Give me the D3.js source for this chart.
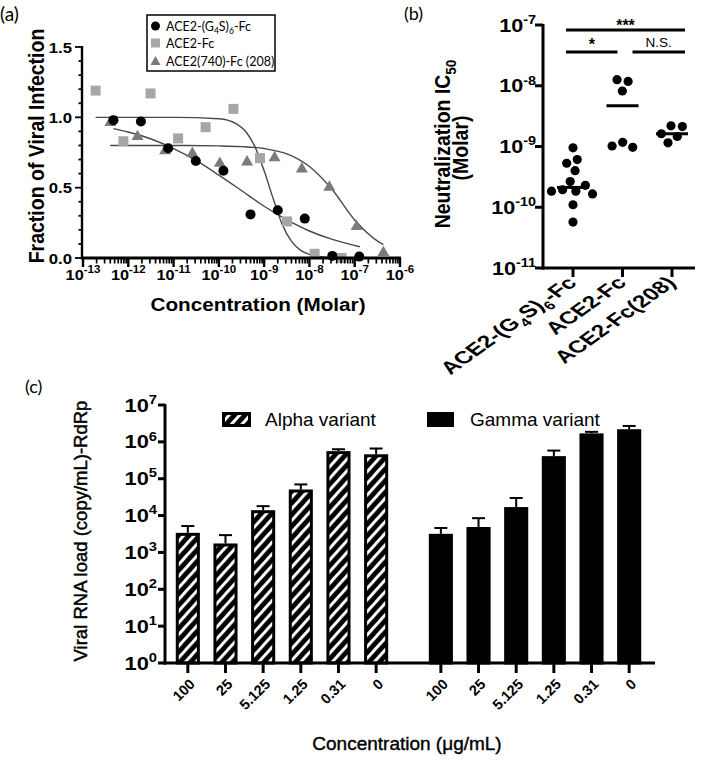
<!DOCTYPE html>
<html><head><meta charset="utf-8">
<script src="https://cdn.jsdelivr.net/npm/d3@7"></script>
<style>body{margin:0;background:#fff}svg{display:block}</style>
</head><body>
<svg id="chart" width="709" height="760"></svg>
<script>
// ---------------- DATA ----------------
// Panel (a): fraction of viral infection vs concentration (Molar)
const aSeriesNames = ["ACE2-(G4S)6-Fc", "ACE2-Fc", "ACE2(740)-Fc (208)"];
const aG4S_x = [4.7e-13, 1.9e-12, 7.6e-12, 3.1e-11, 1.26e-10, 5.0e-10, 2.0e-9, 7.9e-9, 3.2e-8, 1.26e-7];
const aG4S_y = [0.98, 0.97, 0.78, 0.69, 0.62, 0.31, 0.34, 0.28, 0.015, 0.01];
const aFc_x = [1.9e-13, 7.8e-13, 3.1e-12, 1.26e-11, 5.1e-11, 2.1e-10, 8.1e-10, 3.2e-9, 1.3e-8, 5.1e-8];
const aFc_y = [1.19, 0.83, 1.17, 0.85, 0.93, 1.06, 0.71, 0.26, 0.03, 0.0];
const a208_x = [4.0e-13, 1.6e-12, 6.5e-12, 2.6e-11, 1.05e-10, 4.2e-10, 1.7e-9, 6.8e-9, 2.75e-8, 1.1e-7, 4.3e-7];
const a208_y = [0.97, 0.87, 0.77, 0.75, 0.68, 0.69, 0.72, 0.64, 0.51, 0.23, 0.045];
// fitted curves
const fitG4S_x = [4.7e-13, 1e-12, 3.2e-12, 1e-11, 3.2e-11, 1e-10, 3.2e-10, 1e-9, 3.2e-9, 1e-8, 3.2e-8, 1.3e-7];
const fitG4S_y = [0.92, 0.896, 0.846, 0.778, 0.692, 0.589, 0.478, 0.368, 0.271, 0.192, 0.132, 0.08];
const fitFc_x = [1.9e-13, 1e-11, 1e-10, 2.5e-10, 4e-10, 6.3e-10, 1e-9, 1.6e-9, 2.5e-9, 4e-9, 6.3e-9, 1e-8, 2.5e-8, 5.1e-8];
const fitFc_y = [1.0, 1.0, 0.99, 0.952, 0.896, 0.79, 0.62, 0.418, 0.239, 0.12, 0.056, 0.026, 0.005, 0.0];
const fit208_x = [4.0e-13, 1e-11, 1e-10, 3.2e-10, 1e-9, 3.2e-9, 1e-8, 3.2e-8, 1e-7, 3.2e-7, 4.3e-7];
const fit208_y = [0.80, 0.80, 0.797, 0.792, 0.778, 0.74, 0.65, 0.485, 0.27, 0.12, 0.095];
const aYTicks = [0, 0.5, 1.0, 1.5];
const aXExps = [-13, -12, -11, -10, -9, -8, -7, -6];

// Panel (b): neutralization IC50 (Molar)
const bCats = ["ACE2-(G4S)6-Fc", "ACE2-Fc", "ACE2-Fc(208)"];
const bG4S = [9.5e-10, 6.1e-10, 5.3e-10, 4.0e-10, 2.65e-10, 2.3e-10, 1.94e-10, 1.84e-10, 1.84e-10, 1.66e-10, 1.1e-10, 5.7e-11];
const bFc = [1.26e-8, 1.18e-8, 8.2e-9, 1.17e-9, 1.02e-9, 9.7e-10];
const b208 = [2.19e-9, 2.13e-9, 1.62e-9, 1.46e-9, 1.15e-9];
const bYExps = [-11, -10, -9, -8, -7];
const bSig = [["ACE2-(G4S)6-Fc", "ACE2-Fc(208)", "***"], ["ACE2-(G4S)6-Fc", "ACE2-Fc", "*"], ["ACE2-Fc", "ACE2-Fc(208)", "N.S."]];

// Panel (c): viral RNA load
const cGroups = ["Alpha variant", "Gamma variant"];
const cConc = ["100", "25", "5.125", "1.25", "0.31", "0"];
const cAlpha = [3.4e3, 1.75e3, 1.4e4, 5.1e4, 5.6e5, 4.6e5];
const cAlphaUpper = [5.2e3, 2.95e3, 1.8e4, 7.0e4, 6.3e5, 6.6e5];
const cGamma = [3.2e3, 4.9e3, 1.7e4, 4.1e5, 1.7e6, 2.2e6];
const cGammaUpper = [4.6e3, 8.5e3, 3.0e4, 5.8e5, 1.87e6, 2.7e6];
const cYExps = [0, 1, 2, 3, 4, 5, 6, 7];

// ---------------- DRAWING ----------------
const svg = d3.select("#chart");
const ARIAL = "'Liberation Sans', Arial, Helvetica, sans-serif";
const LATO = "Lato, 'Open Sans', sans-serif";

function pow10(g, x, y, exp, size, supSize, anchor, sx) {
  const t = g.append("text").attr("transform", `translate(${x},${y}) scale(${sx || 1},1)`)
    .attr("text-anchor", anchor).attr("font-family", ARIAL)
    .attr("font-weight", "bold").attr("font-size", size).attr("fill", "#000");
  t.append("tspan").text("10");
  t.append("tspan").text(String(exp)).attr("font-size", supSize).attr("dy", -size * 0.42);
  return t;
}
function subText(t, parts, size, subSize) {
  let shifted = false;
  parts.forEach(([s, sub]) => {
    const ts = t.append("tspan").text(s);
    if (sub && !shifted) { ts.attr("font-size", subSize).attr("dy", size * 0.28); shifted = true; }
    else if (sub && shifted) { ts.attr("font-size", subSize); }
    else if (!sub && shifted) { ts.attr("dy", -size * 0.28); shifted = false; }
  });
}

// ===== Panel (a) =====
const gA = svg.append("g");
gA.append("text").attr("x", 0).attr("y", 21).attr("font-family", LATO).attr("font-size", 19).text("(a)");
const xA = d3.scaleLog().domain([1e-13, 1e-6]).range([83, 400]);
const yA = d3.scaleLinear().domain([0, 1.5]).range([258, 47]);

const lineA = d3.line().x(d => xA(d[0])).y(d => yA(d[1])).curve(d3.curveMonotoneX);
[[fitG4S_x, fitG4S_y], [fitFc_x, fitFc_y], [fit208_x, fit208_y]].forEach(([xs, ys]) => {
  gA.append("path").attr("d", lineA(xs.map((v, i) => [v, ys[i]])))
    .attr("fill", "none").attr("stroke", "#4a4a4a").attr("stroke-width", 1.4);
});
const sqCol = "#a6a6a6", triCol = "#7b7b7b";
const tri = d3.symbol().type(d3.symbolTriangle).size(62);
gA.selectAll(".a208").data(a208_x.map((v, i) => [v, a208_y[i]])).join("path")
  .attr("transform", d => `translate(${xA(d[0])},${yA(d[1]) + 1})`).attr("d", tri).attr("fill", triCol);
gA.selectAll(".aFc").data(aFc_x.map((v, i) => [v, aFc_y[i]])).join("rect")
  .attr("x", d => xA(d[0]) - 5).attr("y", d => yA(d[1]) - 5).attr("width", 10).attr("height", 10).attr("fill", sqCol);
gA.selectAll(".aG4S").data(aG4S_x.map((v, i) => [v, aG4S_y[i]])).join("circle")
  .attr("cx", d => xA(d[0])).attr("cy", d => yA(d[1])).attr("r", 5).attr("fill", "#000");

gA.append("line").attr("x1", 82).attr("x2", 82).attr("y1", yA(1.5) - 1).attr("y2", yA(0) + 1).attr("stroke", "#000").attr("stroke-width", 2.4);
gA.append("line").attr("x1", 81).attr("x2", xA(1e-6) + 1).attr("y1", yA(0)).attr("y2", yA(0)).attr("stroke", "#000").attr("stroke-width", 2.8);
d3.range(0, 16).forEach(i => {
  const v = i / 10, major = i % 5 === 0;
  gA.append("line").attr("x1", 82).attr("x2", major ? 75 : 78.5).attr("y1", yA(v)).attr("y2", yA(v)).attr("stroke", "#000").attr("stroke-width", 1.8);
});
aYTicks.forEach(v => {
  gA.append("text").attr("transform", `translate(72,${yA(v) + 5.5}) scale(1.08,1)`).attr("text-anchor", "end")
    .attr("font-family", ARIAL).attr("font-weight", "bold").attr("font-size", 15.5).text(v.toFixed(1));
});
xA.ticks().forEach(v => {
  const e = Math.log10(v), major = Math.abs(e - Math.round(e)) < 1e-6;
  gA.append("line").attr("x1", xA(v)).attr("x2", xA(v)).attr("y1", yA(0)).attr("y2", yA(0) + (major ? 9 : 5.5))
    .attr("stroke", "#000").attr("stroke-width", major ? 2.4 : 1.7);
});
aXExps.forEach(e => pow10(gA, xA(Math.pow(10, e)), 280, e, 15.5, 11, "middle", 1.05));
gA.append("text").attr("transform", "translate(258,311) scale(1.12,1)").attr("text-anchor", "middle").attr("font-family", ARIAL)
  .attr("font-weight", "bold").attr("font-size", 18.5).text("Concentration (Molar)");
gA.append("text").attr("transform", "translate(44,146) scale(1.12,1) rotate(-90)").attr("text-anchor", "middle").attr("font-family", ARIAL)
  .attr("font-weight", "bold").attr("font-size", 19.5).text("Fraction of Viral Infection");

// legend
const lg = gA.append("g");
lg.append("rect").attr("x", 147).attr("y", 15).attr("width", 128).attr("height", 56).attr("fill", "#fff").attr("stroke", "#000").attr("stroke-width", 1.5);
lg.append("circle").attr("cx", 155.5).attr("cy", 26).attr("r", 4.5).attr("fill", "#000");
lg.append("rect").attr("x", 151).attr("y", 38.5).attr("width", 9).attr("height", 9).attr("fill", sqCol);
lg.append("path").attr("transform", "translate(155.5,62)").attr("d", d3.symbol().type(d3.symbolTriangle).size(45)).attr("fill", triCol);
const l1 = lg.append("text").attr("x", 166).attr("y", 30.5).attr("font-family", LATO).attr("font-size", 12.5);
subText(l1, [["ACE2-(G", false], ["4", true], ["S)", false], ["6", true], ["-Fc", false]], 12.5, 8.5);
lg.append("text").attr("x", 166).attr("y", 47.5).attr("font-family", LATO).attr("font-size", 12.5).text("ACE2-Fc");
lg.append("text").attr("x", 166).attr("y", 66).attr("font-family", LATO).attr("font-size", 12.5).text("ACE2(740)-Fc (208)");

// ===== Panel (b) =====
const gB = svg.append("g");
gB.append("text").attr("x", 404).attr("y", 20).attr("font-family", LATO).attr("font-size", 18).text("(b)");
const yB = d3.scaleLog().domain([1e-11, 1e-7]).range([268, 25]);
const xB = d3.scalePoint().domain(bCats).range([573, 672]);

gB.append("line").attr("x1", 543).attr("x2", 543).attr("y1", 24).attr("y2", 269.5).attr("stroke", "#000").attr("stroke-width", 3);
gB.append("line").attr("x1", 541.5).attr("x2", 695).attr("y1", 268).attr("y2", 268).attr("stroke", "#000").attr("stroke-width", 3);
bYExps.forEach(e => {
  const y = yB(Math.pow(10, e));
  gB.append("line").attr("x1", 543).attr("x2", 535).attr("y1", y).attr("y2", y).attr("stroke", "#000").attr("stroke-width", 3);
  pow10(gB, 536, y + 6.5, e, 18, 12, "end", 1.2);
});
bCats.forEach(c => {
  gB.append("line").attr("x1", xB(c)).attr("x2", xB(c)).attr("y1", 268).attr("y2", 277).attr("stroke", "#000").attr("stroke-width", 3);
});
const catParts = [
  [["ACE2-(G", false], ["4", true], ["S)", false], ["6", true], ["-Fc", false]],
  [["ACE2-Fc", false]],
  [["ACE2-Fc(208)", false]]
];
bCats.forEach((c, i) => {
  const t = gB.append("text").attr("transform", `translate(${xB(c) + 5},${284}) scale(1.4,1) rotate(-45)`)
    .attr("text-anchor", "end").attr("font-family", ARIAL).attr("font-weight", "bold").attr("font-size", 17.5);
  subText(t, catParts[i], 17.5, 12);
});
const tB = gB.append("text").attr("transform", "translate(450,144) scale(1.15,1) rotate(-90)").attr("text-anchor", "middle")
  .attr("font-family", ARIAL).attr("font-weight", "bold").attr("font-size", 19.5);
subText(tB, [["Neutralization IC", false], ["50", true]], 19.5, 13.5);
gB.append("text").attr("transform", "translate(468,148) scale(1.15,1) rotate(-90)").attr("text-anchor", "middle")
  .attr("font-family", ARIAL).attr("font-weight", "bold").attr("font-size", 19.5).text("(Molar)");

[bG4S, bFc, b208].forEach((vals, gi) => {
  const cx = xB(bCats[gi]);
  const nodes = vals.map(v => ({ v, fy: yB(v), x: cx, y: yB(v) }));
  nodes.forEach((n, i) => { n.x = cx + (i % 2 ? 1 : -1) * (i * 0.5); });
  const sim = d3.forceSimulation(nodes).force("x", d3.forceX(cx).strength(0.15))
    .force("c", d3.forceCollide(5.6)).stop();
  for (let k = 0; k < 300; k++) sim.tick();
  gB.selectAll(null).data(nodes).join("circle").attr("cx", d => d.x).attr("cy", d => d.fy).attr("r", 4.6).attr("fill", "#000");
  const med = d3.median(vals);
  gB.append("line").attr("x1", cx - 16).attr("x2", cx + 16).attr("y1", yB(med)).attr("y2", yB(med)).attr("stroke", "#000").attr("stroke-width", 3);
});
const sigY = [30, 52, 52];
bSig.forEach(([a, b, lab], i) => {
  let xa = xB(a) - 7, xb = xB(b) + 13;
  if (i === 1) { xa = xB(a) - 7; xb = xB(b) - 5; }
  if (i === 2) { xa = xB(a) + 10; xb = xB(b) + 13; }
  gB.append("line").attr("x1", xa).attr("x2", xb).attr("y1", sigY[i]).attr("y2", sigY[i]).attr("stroke", "#000").attr("stroke-width", 3);
  gB.append("text").attr("x", (xa + xb) / 2).attr("y", lab === "N.S." ? sigY[i] - 5 : sigY[i] + (lab === "*" ? -2 : 1))
    .attr("text-anchor", "middle").attr("font-family", ARIAL).attr("font-weight", lab === "N.S." ? "normal" : "bold")
    .attr("font-size", lab === "N.S." ? 13.5 : 16).text(lab);
});

// ===== Panel (c) =====
const gC = svg.append("g");
gC.append("text").attr("x", 25).attr("y", 393).attr("font-family", LATO).attr("font-size", 18).text("(c)");
const yC = d3.scaleLog().domain([1, 1e7]).range([663, 405]);
const xGroup = d3.scaleBand().domain(cGroups).range([169, 648]).paddingInner(0.107);
const xIn = d3.scaleBand().domain(cConc).range([0, xGroup.bandwidth()]).paddingInner(0.36).paddingOuter(0.18);

const defs = svg.append("defs");
const pat = defs.append("pattern").attr("id", "hatch").attr("patternUnits", "userSpaceOnUse")
  .attr("width", 7.8).attr("height", 7.8).attr("patternTransform", "rotate(42)");
pat.append("rect").attr("width", 7.8).attr("height", 7.8).attr("fill", "#000");
pat.append("rect").attr("x", 2).attr("width", 3).attr("height", 7.8).attr("fill", "#fff");

[[cAlpha, cAlphaUpper, "url(#hatch)"], [cGamma, cGammaUpper, "#000"]].forEach(([vals, up, fill], gi) => {
  const g0 = xGroup(cGroups[gi]);
  vals.forEach((v, i) => {
    const x = g0 + xIn(cConc[i]), w = xIn.bandwidth(), cx = x + w / 2;
    gC.append("line").attr("x1", cx).attr("x2", cx).attr("y1", yC(v)).attr("y2", yC(up[i])).attr("stroke", "#000").attr("stroke-width", 2);
    gC.append("line").attr("x1", cx - 6.5).attr("x2", cx + 6.5).attr("y1", yC(up[i])).attr("y2", yC(up[i])).attr("stroke", "#000").attr("stroke-width", 2);
    gC.append("rect").attr("x", x + 1.5).attr("y", yC(v) + 1.5).attr("width", w - 3).attr("height", yC(1) - yC(v) - 1.5)
      .attr("fill", fill).attr("stroke", "#000").attr("stroke-width", 3);
    gC.append("line").attr("x1", cx).attr("x2", cx).attr("y1", 663).attr("y2", 673).attr("stroke", "#000").attr("stroke-width", 3);
    gC.append("text").attr("transform", `translate(${cx + 8},${685}) rotate(-45)`).attr("text-anchor", "end")
      .attr("font-family", ARIAL).attr("font-weight", "bold").attr("font-size", 14.5).text(cConc[i]);
  });
});
gC.append("line").attr("x1", 165).attr("x2", 165).attr("y1", 404).attr("y2", 664.5).attr("stroke", "#000").attr("stroke-width", 3);
gC.append("line").attr("x1", 163.5).attr("x2", 655).attr("y1", 663).attr("y2", 663).attr("stroke", "#000").attr("stroke-width", 3);
cYExps.forEach(e => {
  const y = yC(Math.pow(10, e));
  gC.append("line").attr("x1", 165).attr("x2", 158).attr("y1", y).attr("y2", y).attr("stroke", "#000").attr("stroke-width", 3);
  pow10(gC, 157, y + 6.5, e, 18.5, 12.5, "end", 1.18);
});
gC.append("text").attr("transform", "translate(87,531) rotate(-90)").attr("text-anchor", "middle")
  .attr("font-family", ARIAL).attr("font-size", 18.5).attr("stroke", "#000").attr("stroke-width", 0.45)
  .text("Viral RNA load (copy/mL)-RdRp");
gC.append("text").attr("x", 407).attr("y", 750).attr("text-anchor", "middle")
  .attr("font-family", ARIAL).attr("font-size", 19).attr("stroke", "#000").attr("stroke-width", 0.4)
  .text("Concentration (\u03BCg/mL)");
gC.append("rect").attr("x", 223.5).attr("y", 413.5).attr("width", 26).attr("height", 12).attr("fill", "url(#hatch)").attr("stroke", "#000").attr("stroke-width", 3);
gC.append("text").attr("x", 265).attr("y", 426).attr("font-family", ARIAL).attr("font-size", 19).text("Alpha variant");
gC.append("rect").attr("x", 427).attr("y", 412).attr("width", 27).attr("height", 15).attr("fill", "#000");
gC.append("text").attr("x", 470).attr("y", 426).attr("font-family", ARIAL).attr("font-size", 19).text("Gamma variant");
</script>
</body></html>
